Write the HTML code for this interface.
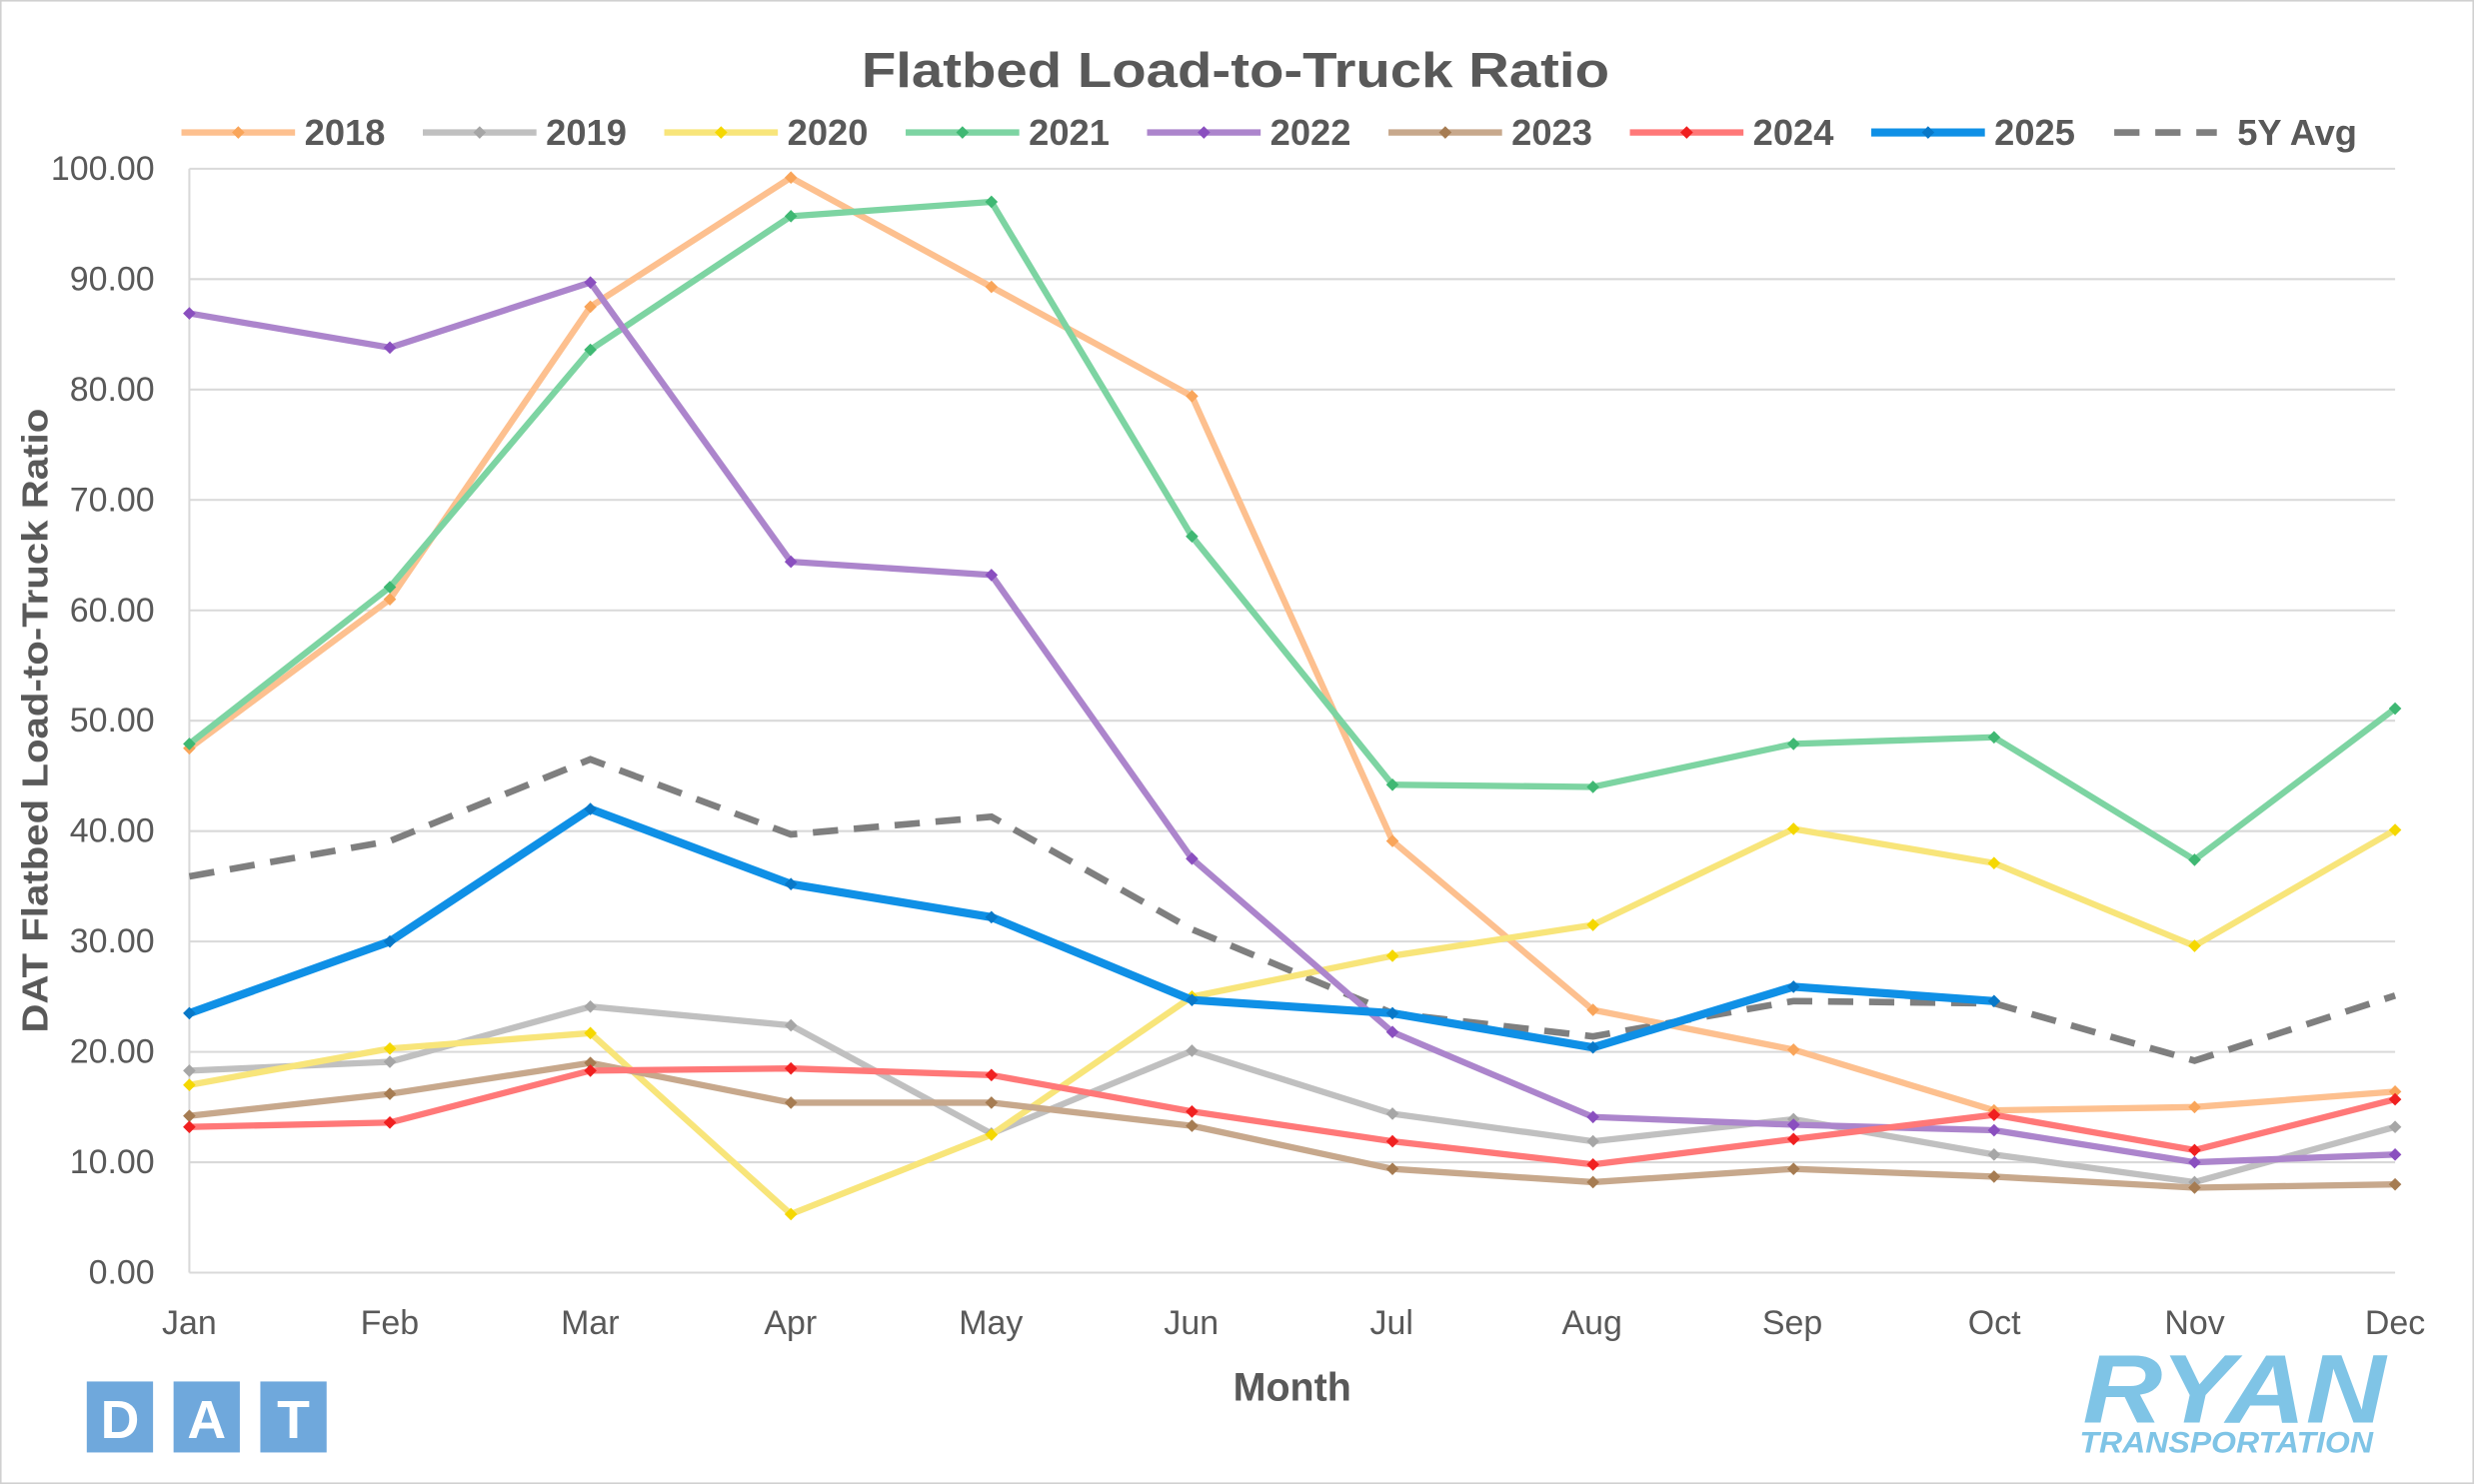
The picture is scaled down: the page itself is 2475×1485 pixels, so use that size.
<!DOCTYPE html>
<html><head><meta charset="utf-8"><style>
html,body{margin:0;padding:0;background:#fff;}
svg{display:block;}
text{font-family:"Liberation Sans",Arial,sans-serif;}
</style></head><body>
<svg id="c" width="2475" height="1485" viewBox="0 0 1568 941" preserveAspectRatio="none" xmlns="http://www.w3.org/2000/svg">
<rect x="0.5" y="0.5" width="1567" height="940" fill="#fff" stroke="#d0d0d0"/>
<text x="783" y="55" text-anchor="middle" font-size="31" font-weight="bold" fill="#595959" textLength="474" lengthAdjust="spacingAndGlyphs">Flatbed Load-to-Truck Ratio</text>
<g stroke="#d9d9d9" stroke-width="1.3">
<line x1="120" x2="1518" y1="107" y2="107"/><line x1="120" x2="1518" y1="177" y2="177"/><line x1="120" x2="1518" y1="247" y2="247"/><line x1="120" x2="1518" y1="317" y2="317"/><line x1="120" x2="1518" y1="387" y2="387"/><line x1="120" x2="1518" y1="457" y2="457"/><line x1="120" x2="1518" y1="527" y2="527"/><line x1="120" x2="1518" y1="597" y2="597"/><line x1="120" x2="1518" y1="667" y2="667"/><line x1="120" x2="1518" y1="737" y2="737"/><line x1="120" x2="1518" y1="807" y2="807"/>
<line x1="120" x2="120" y1="107" y2="807"/>
</g>
<g font-size="21.5" fill="#595959" text-anchor="end">
<text x="98" y="114">100.00</text><text x="98" y="184">90.00</text><text x="98" y="254">80.00</text><text x="98" y="324">70.00</text><text x="98" y="394">60.00</text><text x="98" y="464">50.00</text><text x="98" y="534">40.00</text><text x="98" y="604">30.00</text><text x="98" y="674">20.00</text><text x="98" y="744">10.00</text><text x="98" y="814">0.00</text>
</g>
<g font-size="21.5" fill="#595959" text-anchor="middle">
<text x="120" y="846">Jan</text><text x="247" y="846">Feb</text><text x="374" y="846">Mar</text><text x="501" y="846">Apr</text><text x="628" y="846">May</text><text x="755" y="846">Jun</text><text x="882" y="846">Jul</text><text x="1009" y="846">Aug</text><text x="1136" y="846">Sep</text><text x="1264" y="846">Oct</text><text x="1391" y="846">Nov</text><text x="1518" y="846">Dec</text>
</g>
<text x="819" y="888" text-anchor="middle" font-size="25" font-weight="bold" fill="#595959">Month</text>
<text transform="translate(30,457) rotate(-90)" text-anchor="middle" font-size="23" font-weight="bold" fill="#595959" textLength="396" lengthAdjust="spacingAndGlyphs">DAT Flatbed Load-to-Truck Ratio</text>
<g id="series"></g>
<g id="legend" font-size="23" font-weight="bold" fill="#595959">
<text x="193" y="92">2018</text><text x="346" y="92">2019</text><text x="499" y="92">2020</text><text x="652" y="92">2021</text><text x="805" y="92">2022</text><text x="958" y="92">2023</text><text x="1111" y="92">2024</text><text x="1264" y="92">2025</text><text x="1418" y="92">5Y Avg</text>
</g>
<g>
<rect x="55" y="876" width="42" height="45" fill="#6fa8dc"/><rect x="110" y="876" width="42" height="45" fill="#6fa8dc"/><rect x="165" y="876" width="42" height="45" fill="#6fa8dc"/>
<text x="76" y="912" text-anchor="middle" font-size="34" font-weight="bold" fill="#fff">D</text>
<text x="131" y="912" text-anchor="middle" font-size="34" font-weight="bold" fill="#fff">A</text>
<text x="186" y="912" text-anchor="middle" font-size="34" font-weight="bold" fill="#fff">T</text>
</g>
<text x="1320" y="902" font-size="62" font-weight="bold" font-style="italic" fill="#7fc4e6" textLength="192" lengthAdjust="spacingAndGlyphs">RYAN</text>
<text x="1318" y="921" font-size="19" font-weight="bold" font-style="italic" fill="#7fc4e6" textLength="186" lengthAdjust="spacingAndGlyphs">TRANSPORTATION</text>
</svg>
<script>
var S=[
["#fdc08f",1,[47.5,61,87.5,99.2,89.3,79.4,39.1,23.8,20.2,14.7,15,16.4],"#f9a55a"],
["#c0c0c0",1,[18.3,19.1,24.1,22.4,12.6,20.1,14.4,11.9,13.9,10.7,8.2,13.2],"#a6a6a6"],
["#f8e57a",1,[17,20.3,21.7,5.3,12.5,25,28.7,31.5,40.2,37.1,29.6,40.1],"#f5d800"],
["#7dd4a2",1,[47.9,62.1,83.6,95.7,97,66.7,44.2,44,47.9,48.5,37.4,51.1],"#3fb873"],
["#ac85cc",1,[86.9,83.8,89.7,64.4,63.2,37.5,21.8,14.1,13.4,12.9,10,10.7],"#8a4fbf"],
["#c7a88c",1,[14.2,16.2,19,15.4,15.4,13.3,9.4,8.2,9.4,8.7,7.7,8],"#a67c52"],
["#ff7878",1,[13.2,13.6,18.3,18.5,17.9,14.6,11.9,9.8,12.1,14.3,11.1,15.7],"#f02020"],
["#0f90e6",1.3,[23.5,30,42,35.2,32.2,24.7,23.5,20.4,25.9,24.6],"#0878c8"]];
var avg=[35.9,39.1,46.5,39.7,41.3,31.1,23.5,21.4,24.6,24.4,19.2,25.1];
var g=document.getElementById('series'),ns="http://www.w3.org/2000/svg";
function X(i){return 120+i*127.09}function Y(v){return 807-v*7}
function el(n,a){var e=document.createElementNS(ns,n);for(var k in a)e.setAttribute(k,a[k]);g.appendChild(e);return e}
el('polyline',{points:avg.map(function(v,i){return X(i)+','+Y(v)}).join(' '),fill:'none',stroke:'#7f7f7f','stroke-width':4.2,'stroke-dasharray':'16,10'});
S.forEach(function(s,k){
 el('polyline',{points:s[2].map(function(v,i){return X(i)+','+Y(v)}).join(' '),fill:'none',stroke:s[0],'stroke-width':4*s[1],'stroke-linejoin':'round'});
 s[2].forEach(function(v,i){var x=X(i),y=Y(v);el('path',{d:'M'+x+' '+(y-4)+'L'+(x+4)+' '+y+'L'+x+' '+(y+4)+'L'+(x-4)+' '+y+'Z',fill:s[3]})});
 var lx=115+k*153;
 el('line',{x1:lx,x2:lx+72,y1:84,y2:84,stroke:s[0],'stroke-width':4*s[1]});
 el('path',{d:'M'+(lx+36)+' 80L'+(lx+40)+' 84L'+(lx+36)+' 88L'+(lx+32)+' 84Z',fill:s[3]});
});
el('line',{x1:1340,x2:1405,y1:84,y2:84,stroke:'#7f7f7f','stroke-width':4.2,'stroke-dasharray':'16,10'});
</script>
</body></html>
